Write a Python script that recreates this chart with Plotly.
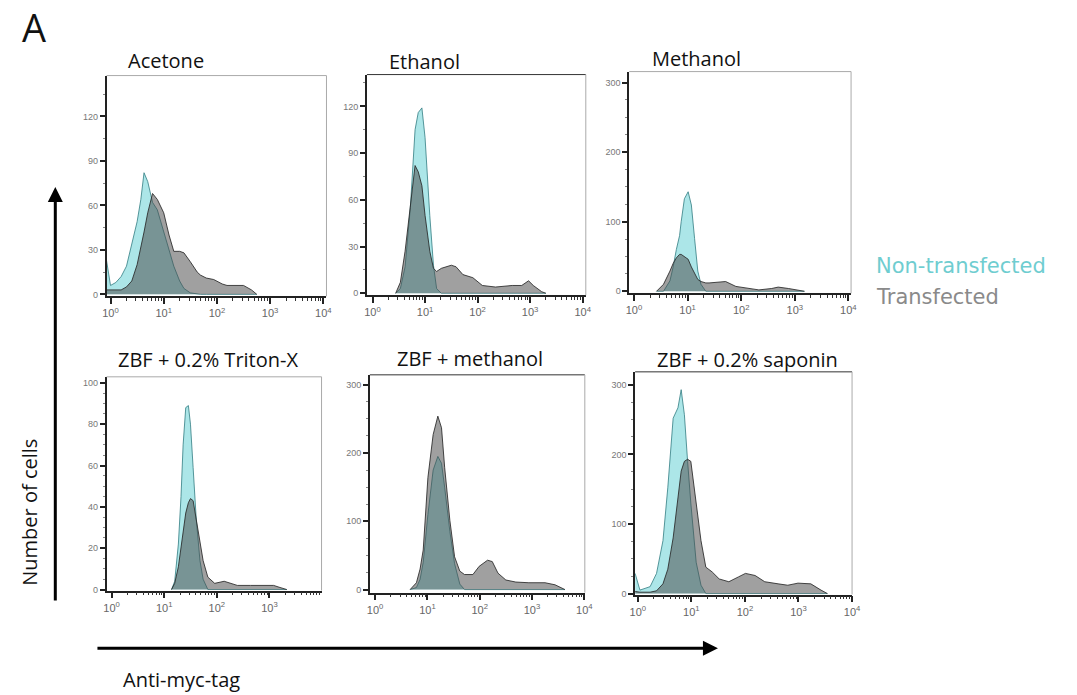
import plotly.graph_objects as go

W, H = 1077, 695

# ---------------- data (log10 of Anti-myc-tag intensity, cell counts) ----------------
acetone_logx = [-0.08, 0.0, 0.1, 0.2, 0.3, 0.4, 0.5, 0.57, 0.63, 0.7, 0.79, 0.88, 1.0, 1.1,
                1.19, 1.3, 1.38, 1.5, 1.63, 1.69, 1.8, 1.94, 2.1, 2.19, 2.35, 2.5, 2.65, 2.75]
acetone_non = [24, 6, 8, 12, 19, 33, 49, 64, 82, 76, 62, 57, 42, 30,
               19, 9, 4, 1, 0, 0, 0, 0, 0, 0, 0, 0, 0, 0]
acetone_tr = [3, 3, 3, 3, 5, 9, 20, 31, 42, 55, 68, 64, 55, 40,
              29, 29, 28, 22, 15, 13, 11, 10, 7, 6, 6, 6, 3, 0]

ethanol_logx = [0.44, 0.53, 0.62, 0.72, 0.81, 0.87, 0.94, 1.0, 1.09, 1.16, 1.22, 1.31, 1.4,
                1.5, 1.59, 1.72, 1.91, 2.09, 2.34, 2.66, 2.84, 2.97, 3.06, 3.22, 3.3]
ethanol_non = [0, 3, 17, 55, 105, 116, 119, 100, 50, 18, 3, 0, 0,
               0, 0, 0, 0, 0, 0, 0, 0, 0, 0, 0, 0]
ethanol_tr = [0, 7, 27, 58, 82, 78, 69, 50, 27, 16, 14, 16, 17,
              18, 17, 12, 10, 5, 4, 5, 5, 8, 5, 1, 0]

methanol_logx = [0.42, 0.55, 0.67, 0.73, 0.79, 0.85, 0.88, 0.94, 1.01, 1.07, 1.13, 1.19, 1.25,
                 1.34, 1.4, 1.59, 1.71, 1.9, 2.08, 2.33, 2.57, 2.69, 2.88, 3.06, 3.18]
methanol_non = [0, 0, 15, 35, 60, 80, 100, 133, 143, 124, 76, 29, 10,
                0, 0, 0, 0, 0, 0, 0, 0, 0, 0, 0, 0]
methanol_tr = [0, 10, 29, 40, 48, 53, 53, 50, 46, 35, 25, 17, 14,
               12, 12, 13, 14, 7, 5, 2, 4, 6, 4, 1, 0]

triton_logx = [1.14, 1.2, 1.27, 1.32, 1.36, 1.41, 1.46, 1.5, 1.55, 1.61, 1.68, 1.74, 1.83,
               1.96, 2.14, 2.39, 2.64, 2.89, 3.08, 3.2, 3.33]
triton_non = [0, 4, 22, 45, 70, 88, 89, 80, 59, 34, 14, 5, 0,
              0, 0, 0, 0, 0, 0, 0, 0]
triton_tr = [0, 3, 11, 20, 29, 37, 42, 44, 43, 34, 22, 14, 6,
             3, 4, 2, 2, 2, 2, 1, 0]

zbfmeoh_logx = [0.67, 0.79, 0.86, 0.92, 1.01, 1.11, 1.2, 1.27, 1.33, 1.43, 1.52, 1.62, 1.71,
                1.87, 1.99, 2.15, 2.24, 2.35, 2.5, 2.69, 2.94, 3.25, 3.44, 3.57, 3.63]
zbfmeoh_non = [0, 3, 15, 40, 110, 175, 195, 185, 150, 85, 38, 8, 0,
               0, 0, 0, 0, 0, 0, 0, 0, 0, 0, 0, 0]
zbfmeoh_tr = [0, 10, 30, 58, 164, 227, 254, 237, 179, 101, 48, 27, 22,
              22, 34, 43, 41, 24, 14, 11, 10, 10, 7, 2, 0]

saponin_logx = [-0.05, 0.04, 0.23, 0.35, 0.47, 0.56, 0.66, 0.75, 0.81, 0.87, 0.93, 0.99, 1.09, 1.18,
                1.27, 1.39, 1.52, 1.7, 1.88, 2.01, 2.19, 2.37, 2.62, 2.8, 2.99, 3.23, 3.42, 3.54]
saponin_non = [29, 5, 10, 29, 76, 152, 252, 267, 293, 257, 190, 130, 45, 12,
               0, 0, 0, 0, 0, 0, 0, 0, 0, 0, 0, 0, 0, 0]
saponin_tr = [3, 2, 2, 4, 14, 35, 80, 135, 176, 190, 193, 190, 133, 76,
              38, 31, 21, 17, 24, 29, 26, 17, 14, 12, 15, 14, 5, 0]

panel_titles = ["Acetone", "Ethanol", "Methanol",
                "ZBF + 0.2% Triton-X", "ZBF + methanol", "ZBF + 0.2% saponin"]
x_tickvals = [1, 10, 100, 1000, 10000]
x_ticktext = ["10<sup>0</sup>", "10<sup>1</sup>", "10<sup>2</sup>", "10<sup>3</sup>", "10<sup>4</sup>"]
x_minor = [m * d for d in (1, 10, 100, 1000) for m in range(2, 10)]
series_names = ["Non-transfected", "Transfected"]

# ---------------- layout geometry (pixels) ----------------
panels = [
    dict(lx=acetone_logx, non=acetone_non, tr=acetone_tr, box=(102, 76, 325, 298),
         xr=(-0.074, 4.06), yr=(-1.3, 147.5), dt=30, mdt=15, tpos=(162, 61), dark_top=False),
    dict(lx=ethanol_logx, non=ethanol_non, tr=ethanol_tr, box=(366, 75, 588, 297),
         xr=(-0.107, 4.06), yr=(-1.3, 140.4), dt=30, mdt=15, tpos=(424, 62), dark_top=True),
    dict(lx=methanol_logx, non=methanol_non, tr=methanol_tr, box=(632, 72, 857, 295),
         xr=(-0.09, 4.05), yr=(-2.9, 315.7), dt=100, mdt=25, tpos=(700, 59), dark_top=False),
    dict(lx=triton_logx, non=triton_non, tr=triton_tr, box=(102, 379, 320, 594),
         xr=(-0.094, 3.99), yr=(-0.5, 102.9), dt=20, mdt=5, tpos=(205, 362), dark_top=False),
    dict(lx=zbfmeoh_logx, non=zbfmeoh_non, tr=zbfmeoh_tr, box=(369, 377, 587, 596),
         xr=(-0.1, 4.01), yr=(-4.4, 314.5), dt=100, mdt=25, tpos=(471, 361), dark_top=True),
    dict(lx=saponin_logx, non=saponin_non, tr=saponin_tr, box=(638, 374, 858, 598),
         xr=(-0.05, 4.0), yr=(-1.4, 318.6), dt=100, mdt=25, tpos=(752, 362), dark_top=True),
]


def px(x):
    return x / W


def py(y):
    return 1 - y / H


CYAN_FILL = "#ace6e8"
CYAN_LINE = "rgba(50,125,130,0.8)"
GRAY_FILL = "rgba(72,72,72,0.52)"
GRAY_LINE = "rgba(40,40,40,0.85)"
FONT = "Open Sans"

fig = go.Figure()
layout = dict(
    width=W, height=H, margin=dict(l=0, r=0, t=0, b=0),
    paper_bgcolor="white", plot_bgcolor="white", showlegend=False,
    shapes=[], annotations=[],
)

for i, p in enumerate(panels, start=1):
    xa = "x" if i == 1 else f"x{i}"
    ya = "y" if i == 1 else f"y{i}"
    xs = [10 ** v for v in p["lx"]]
    fig.add_trace(go.Scatter(x=xs, y=p["non"], xaxis=xa, yaxis=ya, mode="lines",
                             name=series_names[0], fill="tozeroy", fillcolor=CYAN_FILL,
                             line=dict(color=CYAN_LINE, width=1)))
    fig.add_trace(go.Scatter(x=xs, y=p["tr"], xaxis=xa, yaxis=ya, mode="lines",
                             name=series_names[1], fill="tozeroy", fillcolor=GRAY_FILL,
                             line=dict(color=GRAY_LINE, width=1)))
    x0, y0, x1, y1 = p["box"]
    axis_common = dict(showgrid=False, zeroline=False, showline=True, linecolor="#222",
                       linewidth=1.5, ticks="outside", tickcolor="#222", tickwidth=2)
    layout["xaxis" if i == 1 else f"xaxis{i}"] = dict(
        axis_common, type="log", domain=[px(x0), px(x1)], range=list(p["xr"]),
        anchor=ya, tickvals=x_tickvals, ticktext=x_ticktext, ticklen=6,
        tickfont=dict(family="Liberation Sans", size=11, color="#666"),
        minor=dict(tickvals=x_minor, ticks="outside", ticklen=3, tickwidth=1, tickcolor="#333"),
    )
    layout["yaxis" if i == 1 else f"yaxis{i}"] = dict(
        axis_common, domain=[py(y1), py(y0)], range=list(p["yr"]), anchor=xa,
        dtick=p["dt"], tick0=0, ticklen=5,
        tickfont=dict(family="Liberation Sans", size=9, color="#777"),
        minor=dict(dtick=p["mdt"], tick0=0, ticks="outside", ticklen=2, tickwidth=1, tickcolor="#888"),
    )
    # frame top/right
    layout["shapes"].append(dict(type="line", xref="paper", yref="paper",
                                 x0=px(x0), x1=px(x1), y0=py(y0), y1=py(y0),
                                 line=dict(color="#333" if p["dark_top"] else "#aaa", width=1)))
    layout["shapes"].append(dict(type="line", xref="paper", yref="paper",
                                 x0=px(x1), x1=px(x1), y0=py(y0), y1=py(y1),
                                 line=dict(color="#aaa", width=1)))
    tx, ty = p["tpos"]
    layout["annotations"].append(dict(text=panel_titles[i - 1], x=px(tx), y=py(ty), xref="paper",
                                      yref="paper", showarrow=False, xanchor="center", yanchor="middle",
                                      font=dict(family=FONT, size=20, color="#111")))

# panel letter
layout["annotations"].append(dict(text="A", x=px(28), y=py(27), xref="paper", yref="paper",
                                  showarrow=False, xanchor="center", yanchor="middle",
                                  font=dict(family=FONT, size=38, color="#111")))
# legend texts
layout["annotations"].append(dict(text="Non-transfected", x=px(880), y=py(268), xref="paper",
                                  yref="paper", showarrow=False, xanchor="left", yanchor="middle",
                                  font=dict(family="DejaVu Sans", size=21, color="#6fcdd0")))
layout["annotations"].append(dict(text="Transfected", x=px(880), y=py(299), xref="paper",
                                  yref="paper", showarrow=False, xanchor="left", yanchor="middle",
                                  font=dict(family="DejaVu Sans", size=21, color="#8a8a8a")))
# axis titles
layout["annotations"].append(dict(text="Number of cells", x=px(23), y=py(515), xref="paper",
                                  yref="paper", showarrow=False, textangle=-90, xanchor="center",
                                  yanchor="middle", font=dict(family=FONT, size=20, color="#111")))
layout["annotations"].append(dict(text="Anti-myc-tag", x=px(117), y=py(683), xref="paper",
                                  yref="paper", showarrow=False, xanchor="left", yanchor="middle",
                                  font=dict(family=FONT, size=20, color="#111")))
# arrows
layout["annotations"].append(dict(text="", x=px(50), y=py(188), xref="paper", yref="paper",
                                  ax=0, ay=415, axref="pixel", ayref="pixel", showarrow=True,
                                  arrowhead=2, arrowsize=1, arrowwidth=3, arrowcolor="#000"))
layout["annotations"].append(dict(text="", x=px(722), y=py(652), xref="paper", yref="paper",
                                  ax=-622, ay=0, axref="pixel", ayref="pixel", showarrow=True,
                                  arrowhead=2, arrowsize=1, arrowwidth=3, arrowcolor="#000"))

fig.update_layout(**layout)
fig.write_html("out.html")
